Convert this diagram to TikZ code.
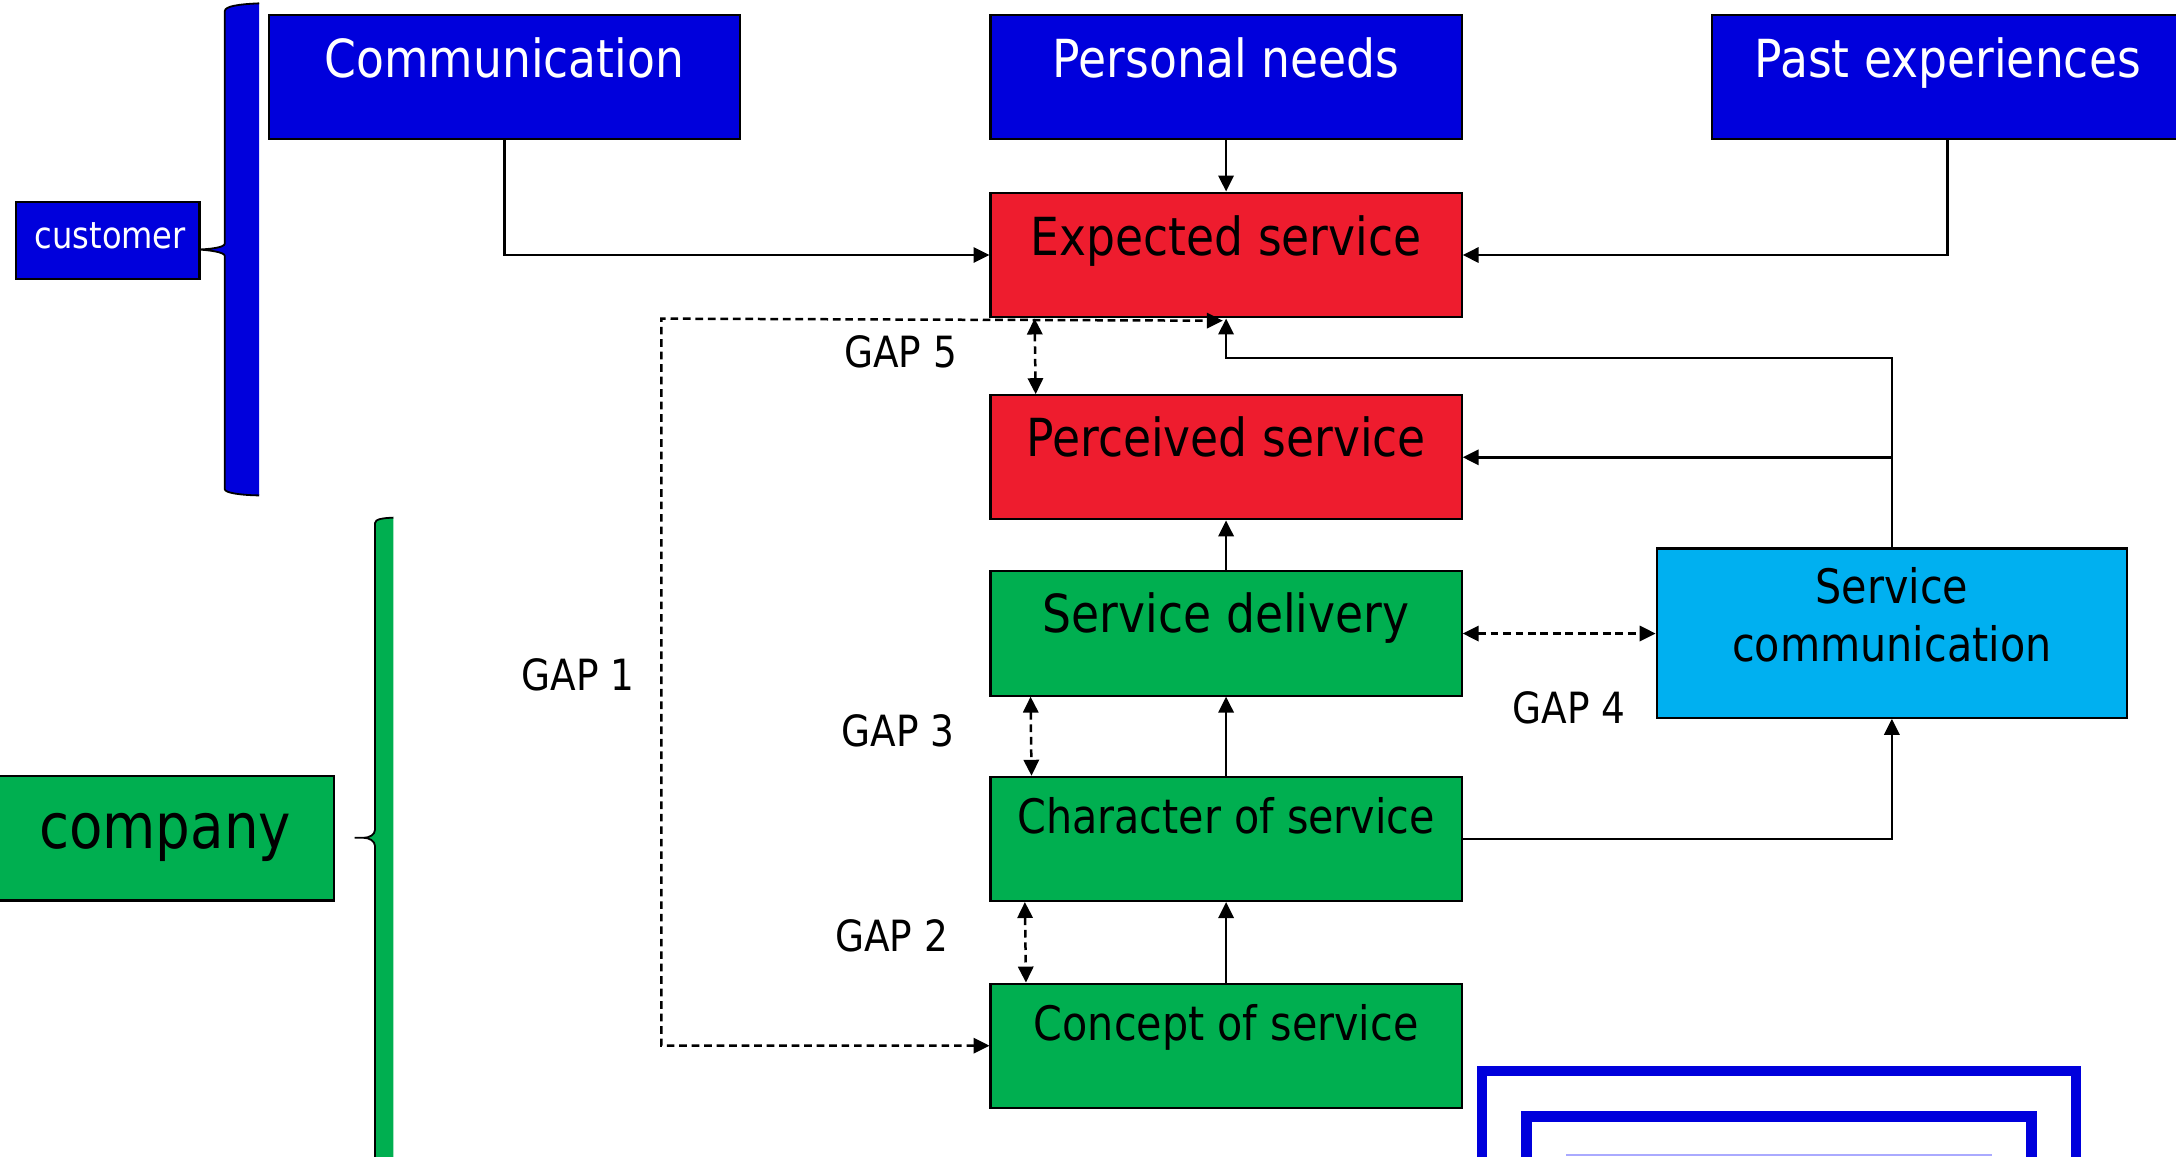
\documentclass[tikz,border=0pt]{standalone}
\usepackage{fontspec}
\setmainfont{DejaVu Sans}[FakeStretch=0.87]
\usetikzlibrary{arrows.meta,calc}
\definecolor{cblue}{RGB}{0,0,220}
\definecolor{cred}{RGB}{238,28,46}
\definecolor{cgreen}{RGB}{0,175,80}
\definecolor{ccyan}{RGB}{0,176,240}
\definecolor{clav}{RGB}{170,170,255}
\newcommand\FBig{\fontsize{37.8}{45}\selectfont}
\newcommand\FMid{\fontsize{34.2}{41}\selectfont}
\newcommand\FGap{\fontsize{31}{37}\selectfont}
\newcommand\FComp{\fontsize{45.3}{54}\selectfont}
\newcommand\FCust{\fontsize{26.6}{32}\selectfont}
\tikzset{
  ahead/.tip={Triangle[length=11.5pt,width=11pt]},
  boxshape/.style={draw=black, line width=1.5pt, minimum width=339.5pt, minimum height=89.5pt, inner sep=0pt, anchor=north west},
  bigw/.style={font=\FBig, text=white, anchor=base, inner sep=0pt},
  bigk/.style={font=\FBig, text=black, anchor=base, inner sep=0pt},
  midk/.style={font=\FMid, text=black, anchor=base, inner sep=0pt},
  gaplabel/.style={font=\FGap, text=black, anchor=base, inner sep=0pt},
  conn/.style={draw=black, line width=1.8pt, -ahead},
  dconn/.style={draw=black, line width=1.8pt, dash pattern=on 5.5pt off 3.5pt, ahead-ahead},
  braceline/.style={draw=black, line width=1.3pt}
}
\begin{document}
\begin{tikzpicture}[x=1pt,y=-1pt]
\useasboundingbox (0,0) rectangle (1568,833);

% braces
\fill[cblue] (186.8,2.4) .. controls (172,3) and (162,4.5) .. (162,8) -- (162,175.5)
  .. controls (162,178.5) and (150,179.6) .. (143,179.8)
  .. controls (150,180.2) and (162,181.5) .. (162,184.5) -- (162,352.5)
  .. controls (162,355) and (172,356.7) .. (186.8,357) -- cycle;
\draw[braceline] (186.8,2.4) .. controls (172,3) and (162,4.5) .. (162,8) -- (162,175.5)
  .. controls (162,178.5) and (150,179.6) .. (143,179.8)
  .. controls (150,180.2) and (162,181.5) .. (162,184.5) -- (162,352.5)
  .. controls (162,355) and (172,356.7) .. (186.8,357);
\fill[cgreen] (283.5,373) .. controls (276,373.3) and (270.2,374) .. (270.2,377) -- (270.2,598)
  .. controls (270.2,601.5) and (266,603.7) .. (262,603.7) -- (255.5,603.7) -- (262,603.7)
  .. controls (266,603.7) and (270.2,606) .. (270.2,609.5) -- (270.2,845) -- (283.5,845) -- cycle;
\draw[braceline] (283.5,373) .. controls (276,373.3) and (270.2,374) .. (270.2,377) -- (270.2,598)
  .. controls (270.2,601.5) and (266,603.7) .. (262,603.7) -- (255.5,603.7) -- (262,603.7)
  .. controls (266,603.7) and (270.2,606) .. (270.2,609.5) -- (270.2,845);

% boxes
\node[boxshape, fill=cblue] (comm) at (193,10) {};
\node[boxshape, fill=cblue] (pers) at (713,10) {};
\node[boxshape, fill=cblue] (past) at (1233,10) {};
\node[boxshape, fill=cred, minimum height=90pt] (exp) at (713,138) {};
\node[boxshape, fill=cred] (perc) at (713,284) {};
\node[boxshape, fill=cgreen] (deliv) at (713,411) {};
\node[boxshape, fill=cgreen] (char) at (713,559) {};
\node[boxshape, fill=cgreen] (conc) at (713,708) {};
\node[boxshape, fill=ccyan, minimum width=339pt, minimum height=122pt] (scom) at (1193,394.5) {};
\node[boxshape, fill=cblue, minimum width=132pt, minimum height=55pt] (cust) at (11,145) {};
\node[boxshape, fill=cgreen, minimum width=241.7pt, minimum height=89.5pt] (comp) at (-2,558.6) {};

% box texts
\node[bigw] (commT) at ([yshift=-45.6pt]comm.north) {Communication};
\node[bigw] (persT) at ([yshift=-45.6pt]pers.north) {Personal needs};
\node[bigw] (pastT) at ([yshift=-45.6pt]past.north) {Past experiences};
\node[bigk] (expT) at ([yshift=-45.8pt]exp.north) {Expected service};
\node[bigk] (percT) at ([yshift=-44.7pt]perc.north) {Perceived service};
\node[bigk] (delivT) at ([yshift=-44.9pt]deliv.north) {Service delivery};
\node[midk] (charT) at ([yshift=-41.8pt]char.north) {Character of service};
\node[midk] (concT) at ([yshift=-41.6pt]conc.north) {Concept of service};
\node[midk] (scomT1) at ([yshift=-40.7pt]scom.north) {Service};
\node[midk] (scomT2) at ([yshift=-82pt]scom.north) {communication};
\node[font=\FCust, text=white, anchor=base, inner sep=0pt] (custT) at (79.5,179) {customer};
\node[font=\FComp, text=black, anchor=base, inner sep=0pt] (compT) at (119,611.4) {company};

% solid connectors
\draw[conn] (comm.south) |- (exp.west);
\draw[conn] (pers.south) -- (exp.north);
\draw[conn] (past.south) |- (exp.east);
\draw[conn] (deliv.north) -- (perc.south);
\draw[conn] (char.north) -- (deliv.south);
\draw[conn] (conc.north) -- (char.south);
\draw[conn] (char.east) -| (scom.south);
\draw[conn] (scom.north) |- (perc.east);
\draw[conn] (scom.north) |- ([yshift=-28.3pt]exp.south) -- (exp.south);

% dashed gap connectors
\coordinate (g1) at (476.5,229.6);
\draw[dconn] (conc.west) -| (g1) -- ([xshift=-2.3pt,yshift=-1.6pt]exp.south);
\draw[dconn] ([xshift=32.5pt]exp.south west) -- ([xshift=33.3pt]perc.north west);
\draw[dconn] ([xshift=29.6pt]deliv.south west) -- ([xshift=30.3pt]char.north west);
\draw[dconn] ([xshift=25.5pt]char.south west) -- ([xshift=26.3pt]conc.north west);
\draw[dconn] (deliv.east) -- (deliv.east -| scom.west);

% gap labels
\node[gaplabel] (gap1) at (416.5,497.4) {GAP 1};
\node[gaplabel] (gap5) at (649,264.7) {GAP 5};
\node[gaplabel] (gap3) at (647,537.6) {GAP 3};
\node[gaplabel] (gap2) at (642.5,685.8) {GAP 2};
\node[gaplabel] (gap4) at (1130.5,521.6) {GAP 4};

% frames bottom right
\draw[cblue, line width=7pt] (1068,900) -- (1068,771.7) -- (1495.8,771.7) -- (1495.8,900);
\draw[cblue, line width=8pt] (1100.2,900) -- (1100.2,804.2) -- (1463.9,804.2) -- (1463.9,900);
\draw[clav, line width=1.5pt] (1128.5,832.5) -- (1435.6,832.5);
\end{tikzpicture}
\end{document}
